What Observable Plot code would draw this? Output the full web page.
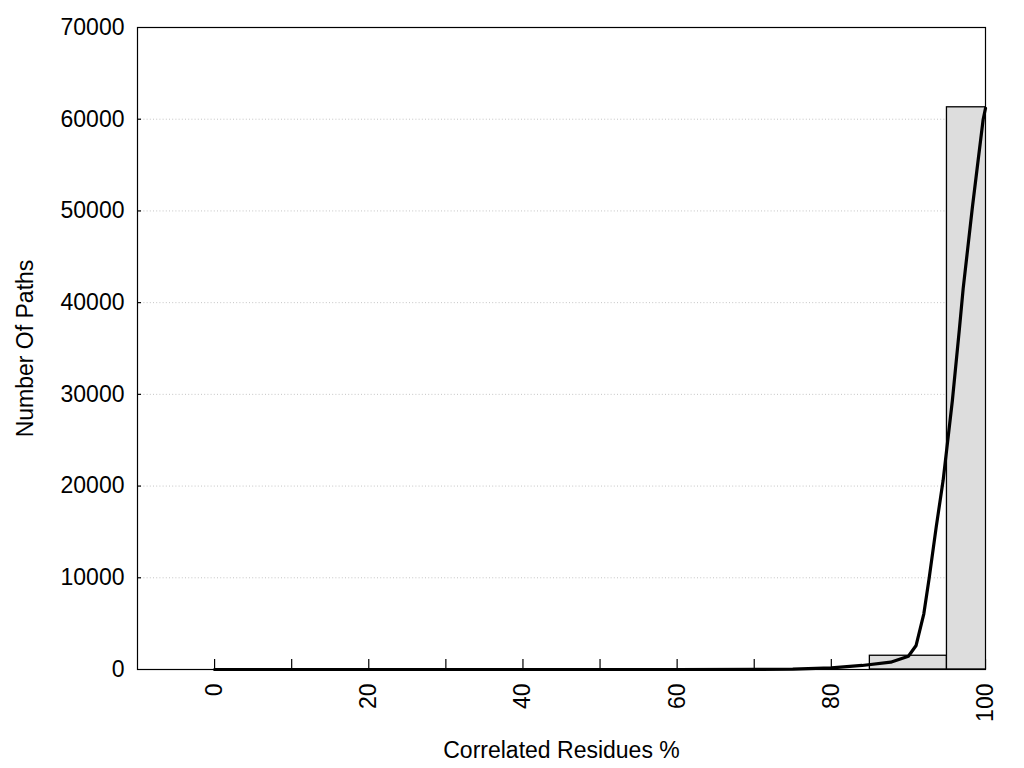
<!DOCTYPE html>
<html>
<head>
<meta charset="utf-8">
<script src="https://cdn.jsdelivr.net/npm/d3@7"></script>
<script src="https://cdn.jsdelivr.net/npm/@observablehq/plot@0.6"></script>
<style>
  html, body { margin: 0; padding: 0; background: #fff; }
  #chart { width: 1024px; height: 768px; }
</style>
</head>
<body>
<div id="chart"></div>
<script>
// Histogram bins (bin centre, bin width, count)
const binCenters = [90, 100];
const binWidth = 10;
const binCounts = [1500, 61300];

// Smoothed curve
const curveX = [0, 10, 20, 30, 40, 50, 60, 70, 75, 80, 84, 87.7, 90, 91, 92, 92.7, 93.6, 94.5, 95.7, 96.6, 97.1, 98.3, 99.1, 99.7, 100];
const curveY = [0, 0, 0, 0, 0, 0, 0, 5, 40, 185, 440, 800, 1450, 2620, 6070, 10000, 15500, 20600, 29300, 37000, 41500, 50400, 55900, 60000, 61200];

// Axis ticks
const xTickMarks = [0, 10, 20, 30, 40, 50, 60, 70, 80, 90, 100];
const xTickLabels = [0, 20, 40, 60, 80, 100];
const yTickLabels = [0, 10000, 20000, 30000, 40000, 50000, 60000, 70000];
const yGrid = [10000, 20000, 30000, 40000, 50000, 60000];

const xTitle = "Correlated Residues %";
const yTitle = "Number Of Paths";

const bins = binCenters.map((c, i) => ({x1: c - binWidth / 2, x2: c + binWidth / 2, y: binCounts[i]}));
const curve = curveX.map((x, i) => ({x, y: curveY[i]}));

const chart = Plot.plot({
  width: 1024,
  height: 768,
  marginLeft: 137,
  marginRight: 39,
  marginTop: 27,
  marginBottom: 99,
  x: {domain: [-10, 100]},
  y: {domain: [0, 70000]},
  style: {fontFamily: "'Liberation Sans', Arial, sans-serif", fontSize: "23px", color: "#000", background: "#fff"},
  marks: [
    Plot.ruleY(yGrid, {stroke: "#c4c4c4", strokeWidth: 1, strokeDasharray: "1,2.2"}),
    Plot.ruleX(xTickMarks, {x: d => d, y1: 0, y2: 0, insetTop: 0, insetBottom: 10, stroke: "#000", strokeWidth: 1.2}),
    Plot.ruleY(yGrid, {y: d => d, x1: -10, x2: -10, insetLeft: 0, insetRight: -4, stroke: "#000", strokeWidth: 1.2}),
    Plot.rectY(bins, {x1: "x1", x2: "x2", y1: 0, y2: "y", fill: "#dddddd", stroke: "#000", strokeWidth: 1.3, clip: true}),
    Plot.line(curve, {x: "x", y: "y", stroke: "#000", strokeWidth: 3.2, strokeLinejoin: "round"}),
    Plot.frame({stroke: "#000", strokeWidth: 1.2}),
    Plot.axisY(yTickLabels, {tickSize: 0, tickPadding: 13, fontSize: 23, label: null, tickFormat: d3.format("d")}),
    Plot.axisX(xTickLabels, {tickSize: 0, tickPadding: 14, tickRotate: -90, fontSize: 23, label: null, tickFormat: d3.format("d")}),
    Plot.text([xTitle], {frameAnchor: "bottom", text: d => d, dy: 81, fontSize: 23, lineAnchor: "middle", textAnchor: "middle"}),
    Plot.text([yTitle], {frameAnchor: "left", text: d => d, dx: -112, rotate: -90, fontSize: 23, lineAnchor: "middle", textAnchor: "middle"})
  ]
});
document.getElementById("chart").appendChild(chart);
</script>
</body>
</html>
